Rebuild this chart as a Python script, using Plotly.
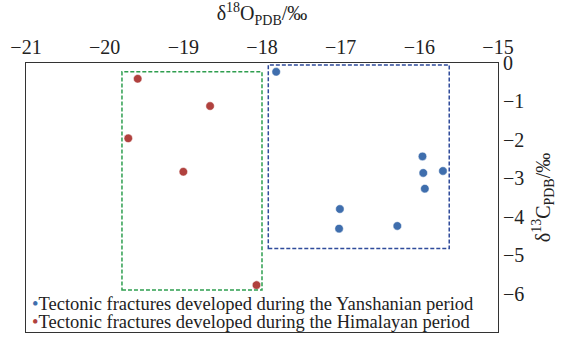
import plotly.graph_objects as go

# δ18O / δ13C isotope values of calcite filling tectonic fractures
yanshan_o = [-17.82, -15.96, -15.95, -15.70, -15.93, -17.01, -17.02, -16.28]
yanshan_c = [-0.23, -2.43, -2.86, -2.81, -3.27, -3.80, -4.31, -4.24]
himalaya_o = [-19.58, -18.66, -19.70, -19.00, -18.07]
himalaya_c = [-0.41, -1.12, -1.96, -2.83, -5.78]

# grouping envelopes: [o_min, o_max, c_min, c_max]
yanshan_box = [-17.92, -15.62, -4.83, -0.05]
himalaya_box = [-19.78, -18.00, -5.91, -0.23]

series_names = ["Tectonic fractures developed during the Yanshanian period",
                "Tectonic fractures developed during the Himalayan period"]

BLUE = "#3F6EAD"
RED = "#B0413E"
FONT = "Times New Roman, Liberation Serif, serif"
TXT = "#222222"

fig = go.Figure()

fig.add_trace(go.Scatter(
    x=yanshan_o, y=yanshan_c, mode="markers", name=series_names[0],
    marker=dict(color=BLUE, size=8.5, line=dict(color="white", width=0.5)),
))
fig.add_trace(go.Scatter(
    x=himalaya_o, y=himalaya_c, mode="markers", name=series_names[1],
    marker=dict(color=RED, size=8.5, line=dict(color="white", width=0.5)),
))

for box, col in [(yanshan_box, "#2F4B9B"), (himalaya_box, "#2E9E4F")]:
    fig.add_shape(type="rect", xref="x", yref="y",
                  x0=box[0], x1=box[1], y0=box[2], y1=box[3],
                  line=dict(color=col, width=1.5, dash="4px,2px"))

# compact key in the lower-left corner of the frame
for name, col, ypos in [(series_names[0], BLUE, 0.104), (series_names[1], RED, 0.038)]:
    fig.add_annotation(
        xref="paper", yref="paper", x=0.008, y=ypos,
        xanchor="left", yanchor="middle", showarrow=False,
        text=f"<span style='color:{col}'>•</span>{name}",
        font=dict(family=FONT, size=18.5, color=TXT),
    )

axis_common = dict(
    showgrid=False, zeroline=False,
    showline=True, linecolor="#333", linewidth=1.2, mirror=True,
    ticks="", ticklen=0,
    tickfont=dict(family=FONT, size=20, color=TXT),
)

fig.update_layout(
    width=563, height=340,
    margin=dict(l=26, r=65, t=63, b=8),
    paper_bgcolor="white", plot_bgcolor="white",
    font=dict(family=FONT, color=TXT, size=19),
    showlegend=False,
    xaxis=dict(
        side="top", range=[-21, -15], dtick=1, tick0=-21,
        title=dict(text="δ<sup>18</sup>O<sub>PDB</sub>/‰", standoff=10,
                   font=dict(family=FONT, size=20, color=TXT)),
        **axis_common,
    ),
    yaxis=dict(
        side="right", range=[-7, 0], dtick=1,
        title=dict(text="δ<sup>13</sup>C<sub>PDB</sub>/‰", standoff=12,
                   font=dict(family=FONT, size=20, color=TXT)),
        **axis_common,
    ),
)

fig.write_html("out.html")
